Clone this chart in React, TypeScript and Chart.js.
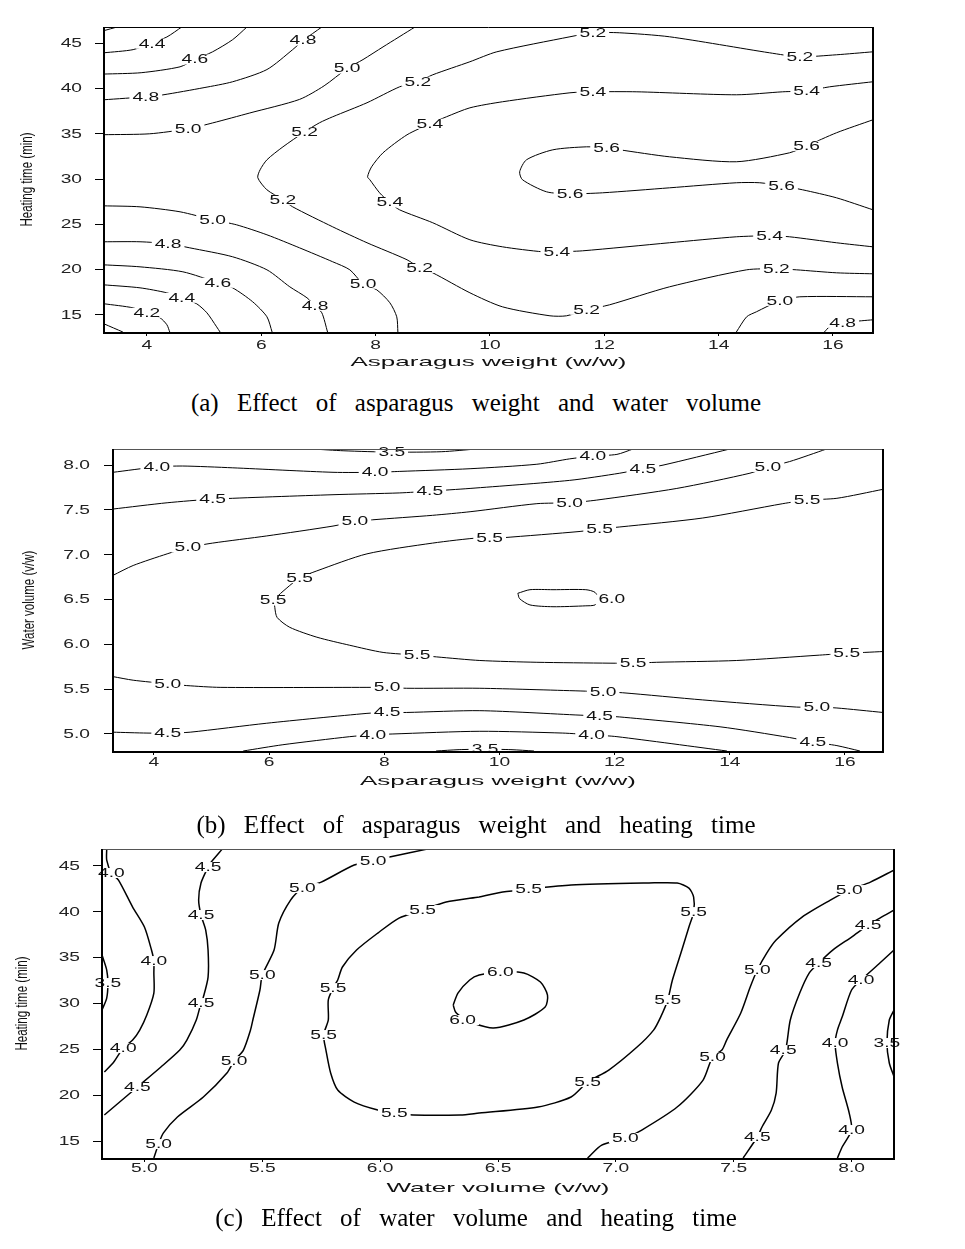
import React, { useEffect, useRef } from 'react';
import { Chart, registerables } from 'chart.js';
Chart.register(...registerables);

type Pt = [number, number];
type Lbl = [number, number, string];

// ---------------- Panel (a): asparagus weight x heating time ----------------
const A_X_TICKS = [4, 6, 8, 10, 12, 14, 16];
const A_Y_TICKS = [15, 20, 25, 30, 35, 40, 45];
const A_C40: Pt[] = [[3.25, 14.0], [3.58, 13.1]];
const A_C42_TOP: Pt[] = [[3.25, 46.4], [3.48, 46.8]];
const A_C42: Pt[] = [[3.25, 16.22], [3.76, 15.77], [4.0, 15.22], [4.23, 14.67], [4.35, 13.9], [4.4, 13.1]];
const A_C44_TOP: Pt[] = [[3.25, 43.95], [3.76, 44.3], [4.09, 45.05], [4.35, 45.7], [4.61, 46.8]];
const A_C44: Pt[] = [[3.25, 18.31], [3.88, 17.98], [4.35, 17.43], [4.61, 16.88], [4.87, 16.22], [5.05, 15.22], [5.22, 13.67], [5.28, 13.1]];
const A_C46_TOP: Pt[] = [[3.25, 41.6], [3.9, 41.75], [4.58, 42.4], [4.84, 43.2], [5.15, 44.06], [5.5, 45.4], [5.75, 46.8]];
const A_C46: Pt[] = [[3.25, 20.52], [3.88, 20.3], [4.63, 19.75], [5.24, 18.54], [5.5, 17.98], [5.85, 16.44], [6.1, 14.78], [6.19, 13.1]];
const A_C48_TOP: Pt[] = [[3.25, 38.76], [4.0, 39.1], [4.28, 39.3], [5.0, 40.1], [5.5, 40.75], [6.1, 42.1], [6.55, 44.3], [6.73, 45.3], [7.06, 46.8]];
const A_C48: Pt[] = [[3.25, 23.07], [3.88, 23.07], [4.37, 22.85], [4.75, 22.4], [5.5, 21.41], [6.1, 19.97], [6.5, 18.09], [6.8, 16.88], [6.94, 15.99], [7.06, 15.22], [7.16, 13.1]];
const A_C48_BR: Pt[] = [[15.85, 13.1], [15.94, 13.67], [16.17, 14.12], [16.5, 14.34], [16.7, 14.45]];
const A_C50_TOP: Pt[] = [[3.25, 34.9], [4.05, 35.0], [4.72, 35.55], [5.15, 36.2], [5.8, 37.3], [6.67, 38.8], [7.1, 40.3], [7.5, 42.2], [7.78, 43.2], [8.13, 44.6], [8.69, 46.8]];
const A_C50: Pt[] = [[3.25, 27.04], [3.88, 26.93], [4.58, 26.38], [5.15, 25.5], [5.57, 24.94], [6.1, 23.84], [6.67, 22.4], [7.25, 20.86], [7.55, 19.97], [7.78, 18.43], [8.02, 17.76], [8.25, 16.33], [8.37, 14.78], [8.39, 13.1]];
const A_C50_BR: Pt[] = [[14.31, 13.1], [14.49, 14.78], [14.66, 15.33], [15.07, 16.55], [15.42, 16.99], [16.7, 16.99]];
const A_C52: Pt[] = [[16.7, 19.53], [16.06, 19.64], [15.36, 19.97], [15.01, 20.08], [14.49, 19.97], [13.14, 18.09], [12.09, 16.1], [11.69, 15.55], [11.34, 14.89], [11.05, 14.89], [10.22, 15.88], [9.65, 17.43], [9.0, 19.64], [8.77, 20.19], [8.55, 21.08], [7.85, 22.96], [7.25, 24.72], [6.55, 26.93], [6.38, 27.71], [6.1, 28.81], [5.94, 30.14], [5.98, 31.02], [6.1, 32.13], [6.38, 33.56], [6.76, 35.22], [7.02, 36.22], [7.25, 36.88], [7.85, 38.43], [8.42, 40.19], [8.74, 40.75], [9.0, 41.52], [9.65, 42.96], [10.12, 44.06], [11.4, 45.72], [11.8, 46.16], [12.27, 46.16], [13.14, 45.72], [14.89, 43.95], [15.42, 43.51], [16.06, 43.73], [16.7, 44.06]];
const A_C54: Pt[] = [[16.7, 22.51], [16.06, 22.96], [15.24, 23.62], [14.89, 23.73], [14.31, 23.62], [13.14, 22.96], [11.62, 22.07], [11.17, 21.96], [10.92, 21.96], [10.22, 22.51], [9.65, 23.29], [9.0, 25.17], [8.42, 26.6], [8.25, 27.38], [8.07, 28.48], [7.9, 29.92], [7.86, 30.25], [7.93, 31.35], [8.13, 32.9], [8.55, 34.89], [8.95, 36.1], [9.24, 36.88], [9.65, 37.87], [10.22, 38.54], [11.4, 39.53], [11.8, 39.64], [12.57, 39.64], [14.31, 39.31], [15.12, 39.64], [15.54, 39.75], [15.94, 40.19], [16.7, 40.75]];
const A_C56: Pt[] = [[16.7, 36.55], [16.06, 35.11], [15.54, 33.67], [15.24, 32.9], [14.31, 31.91], [13.14, 32.46], [12.27, 33.23], [12.04, 33.45], [11.69, 33.56], [11.1, 33.23], [10.64, 32.13], [10.52, 30.8], [10.57, 29.92], [10.99, 28.59], [11.4, 28.37], [11.97, 28.48], [13.14, 29.03], [14.31, 29.59], [14.72, 29.59], [15.1, 29.25], [15.47, 28.81], [16.06, 27.93], [16.7, 26.6]];
const A_LABELS: Lbl[] = [
  [4.09, 44.95, '4.4'], [4.84, 43.2, '4.6'], [3.98, 39.1, '4.8'], [6.73, 45.3, '4.8'],
  [4.72, 35.55, '5.0'], [7.5, 42.2, '5.0'], [6.76, 35.2, '5.2'], [8.74, 40.75, '5.2'],
  [11.8, 46.16, '5.2'], [15.42, 43.5, '5.2'], [8.95, 36.1, '5.4'], [11.8, 39.64, '5.4'],
  [15.54, 39.75, '5.4'], [12.04, 33.45, '5.6'], [15.54, 33.67, '5.6'], [11.4, 28.37, '5.6'],
  [15.1, 29.25, '5.6'], [6.38, 27.7, '5.2'], [8.25, 27.4, '5.4'], [5.15, 25.5, '5.0'],
  [11.17, 21.96, '5.4'], [14.89, 23.73, '5.4'], [4.37, 22.85, '4.8'], [8.77, 20.19, '5.2'],
  [11.69, 15.55, '5.2'], [15.01, 20.08, '5.2'], [5.24, 18.54, '4.6'], [7.78, 18.43, '5.0'],
  [4.61, 16.88, '4.4'], [6.94, 15.99, '4.8'], [4.0, 15.22, '4.2'], [15.07, 16.55, '5.0'],
  [16.17, 14.12, '4.8'],
];

// ---------------- Panel (b): asparagus weight x water volume ----------------
const B_X_TICKS = [4, 6, 8, 10, 12, 14, 16];
const B_Y_TICKS = [5.0, 5.5, 6.0, 6.5, 7.0, 7.5, 8.0];
const B_C35_TOP: Pt[] = [[6.75, 8.18], [7.3, 8.16], [8.13, 8.145], [9.0, 8.15], [9.6, 8.18]];
const B_C40_TOP: Pt[] = [[3.29, 7.92], [4.05, 7.98], [4.5, 7.99], [5.37, 7.97], [7.11, 7.92], [7.84, 7.92], [8.27, 7.93], [9.49, 7.96], [10.65, 8.01], [11.22, 8.07], [11.62, 8.1], [12.04, 8.12], [12.32, 8.18]];
const B_C45_TOP: Pt[] = [[3.29, 7.51], [4.23, 7.58], [5.02, 7.62], [7.11, 7.67], [8.27, 7.69], [8.79, 7.71], [9.49, 7.74], [11.22, 7.83], [12.09, 7.91], [12.49, 7.96], [12.84, 8.0], [14.0, 8.18]];
const B_C50_TOP: Pt[] = [[3.29, 6.77], [3.64, 6.88], [4.23, 7.01], [4.59, 7.08], [5.02, 7.13], [5.96, 7.21], [7.11, 7.32], [7.49, 7.37], [7.8, 7.39], [8.84, 7.44], [9.49, 7.48], [10.65, 7.57], [11.22, 7.58], [11.69, 7.61], [13.08, 7.74], [14.35, 7.91], [14.66, 7.98], [15.04, 8.04], [15.68, 8.18]];
const B_C55: Pt[] = [[16.66, 7.73], [15.86, 7.63], [15.34, 7.61], [14.92, 7.57], [13.53, 7.41], [12.09, 7.31], [11.74, 7.29], [11.4, 7.26], [10.06, 7.19], [9.83, 7.18], [9.66, 7.19], [8.84, 7.13], [7.7, 7.01], [6.83, 6.82], [6.53, 6.74], [6.31, 6.63], [6.1, 6.5], [6.1, 6.41], [6.14, 6.3], [6.36, 6.19], [6.83, 6.08], [7.4, 5.99], [7.98, 5.91], [8.57, 5.88], [8.91, 5.86], [9.66, 5.82], [10.65, 5.8], [11.92, 5.79], [12.32, 5.79], [12.73, 5.8], [14.12, 5.82], [15.56, 5.88], [16.03, 5.9], [16.66, 5.92]];
const B_C60: Pt[] = [[10.32, 6.57], [10.53, 6.61], [10.93, 6.61], [11.5, 6.61], [11.66, 6.58], [11.72, 6.5], [11.66, 6.44], [11.5, 6.43], [10.93, 6.42], [10.53, 6.44], [10.35, 6.51], [10.32, 6.57]];
const B_C50_LOW: Pt[] = [[3.29, 5.64], [3.64, 5.6], [4.24, 5.56], [4.57, 5.54], [5.15, 5.52], [7.7, 5.52], [8.05, 5.52], [8.39, 5.51], [9.66, 5.51], [11.4, 5.48], [11.8, 5.47], [12.14, 5.46], [13.53, 5.38], [15.16, 5.3], [15.51, 5.3], [15.86, 5.29], [16.66, 5.24]];
const B_C45_LOW: Pt[] = [[3.29, 5.02], [3.88, 5.01], [4.24, 5.01], [4.63, 5.02], [5.96, 5.12], [7.7, 5.23], [8.05, 5.24], [8.39, 5.24], [9.66, 5.26], [11.4, 5.21], [11.74, 5.2], [12.09, 5.19], [13.83, 5.08], [15.04, 4.96], [15.44, 4.91], [15.86, 4.87], [16.26, 4.81]];
const B_C40_LOW: Pt[] = [[5.55, 4.81], [6.24, 4.88], [7.4, 4.97], [7.8, 4.99], [8.15, 5.0], [9.66, 5.03], [11.1, 5.01], [11.6, 4.99], [12.04, 4.97], [13.95, 4.81]];
const B_C35_LOW: Pt[] = [[8.9, 4.81], [9.3, 4.825], [9.75, 4.83], [10.2, 4.825], [10.6, 4.81]];
const B_LABELS: Lbl[] = [
  [8.13, 8.145, '3.5'], [4.05, 7.98, '4.0'], [7.84, 7.92, '4.0'], [11.62, 8.1, '4.0'],
  [5.02, 7.62, '4.5'], [8.79, 7.71, '4.5'], [12.49, 7.96, '4.5'], [4.59, 7.08, '5.0'],
  [7.49, 7.37, '5.0'], [11.22, 7.58, '5.0'], [14.66, 7.98, '5.0'], [6.53, 6.74, '5.5'],
  [6.07, 6.49, '5.5'], [9.83, 7.18, '5.5'], [11.74, 7.29, '5.5'], [15.34, 7.61, '5.5'],
  [11.95, 6.5, '6.0'], [8.57, 5.88, '5.5'], [12.32, 5.79, '5.5'], [16.03, 5.9, '5.5'],
  [4.24, 5.56, '5.0'], [8.05, 5.52, '5.0'], [11.8, 5.47, '5.0'], [15.51, 5.3, '5.0'],
  [4.24, 5.01, '4.5'], [8.05, 5.24, '4.5'], [11.74, 5.2, '4.5'], [15.44, 4.91, '4.5'],
  [7.8, 4.99, '4.0'], [11.6, 4.99, '4.0'], [9.75, 4.83, '3.5'],
];

// ---------------- Panel (c): water volume x heating time ----------------
const C_X_TICKS = [5.0, 5.5, 6.0, 6.5, 7.0, 7.5, 8.0];
const C_Y_TICKS = [15, 20, 25, 30, 35, 40, 45];
const C_C35_L: Pt[] = [[4.82, 35.28], [4.84, 33.65], [4.845, 32.23], [4.84, 30.59], [4.82, 29.29]];
const C_C40_L: Pt[] = [[4.84, 46.84], [4.84, 45.64], [4.86, 44.23], [4.89, 43.46], [4.95, 40.52], [5.0, 38.34], [5.03, 35.83], [5.04, 34.63], [5.04, 33.32], [5.04, 31.14], [5.01, 28.74], [4.98, 27.1], [4.95, 26.01], [4.91, 25.14], [4.87, 23.62], [4.83, 22.52]];
const C_C45_L: Pt[] = [[5.33, 46.84], [5.28, 45.32], [5.27, 44.88], [5.24, 43.14], [5.23, 41.28], [5.24, 39.65], [5.26, 38.01], [5.27, 35.83], [5.27, 32.88], [5.25, 30.7], [5.24, 30.05], [5.22, 28.2], [5.18, 26.01], [5.15, 24.92], [5.07, 23.07], [4.97, 20.89], [4.93, 20.02], [4.83, 17.84]];
const C_C50_L: Pt[] = [[6.2, 46.84], [6.04, 45.97], [5.97, 45.53], [5.89, 45.1], [5.75, 43.24], [5.67, 42.59], [5.62, 41.28], [5.57, 38.77], [5.55, 35.83], [5.5, 33.1], [5.49, 31.47], [5.46, 28.2], [5.45, 27.1], [5.42, 24.92], [5.38, 23.72], [5.35, 22.42], [5.25, 19.8], [5.14, 17.62], [5.08, 15.87], [5.06, 14.67], [5.04, 13.15]];
const C_C55: Pt[] = [[6.42, 41.61], [6.28, 41.06], [6.18, 40.19], [6.08, 39.32], [5.99, 37.68], [5.9, 35.83], [5.84, 33.98], [5.82, 32.56], [5.8, 31.68], [5.78, 30.38], [5.78, 28.2], [5.76, 26.56], [5.77, 24.92], [5.79, 22.42], [5.82, 20.56], [5.89, 19.25], [5.99, 18.38], [6.06, 18.05], [6.14, 17.84], [6.34, 17.84], [6.42, 18.05], [6.67, 18.71], [6.81, 19.8], [6.88, 21.43], [6.97, 22.74], [7.09, 25.25], [7.16, 27.1], [7.19, 28.52], [7.22, 30.38], [7.24, 32.56], [7.28, 35.83], [7.31, 38.34], [7.33, 39.97], [7.33, 41.61], [7.31, 42.59], [7.26, 43.14], [7.14, 43.14], [6.81, 42.92], [6.63, 42.48], [6.52, 42.15], [6.42, 41.61]];
const C_C60: Pt[] = [[6.31, 29.83], [6.33, 31.14], [6.38, 32.56], [6.42, 33.1], [6.51, 33.43], [6.61, 33.32], [6.68, 32.34], [6.71, 30.92], [6.7, 29.61], [6.61, 28.2], [6.48, 27.32], [6.38, 27.98], [6.35, 28.41], [6.32, 29.07], [6.31, 29.83]];
const C_C50_R: Pt[] = [[8.18, 44.55], [8.08, 43.24], [7.99, 42.37], [7.91, 41.28], [7.79, 39.43], [7.68, 36.92], [7.64, 35.5], [7.6, 33.65], [7.57, 31.79], [7.53, 28.96], [7.47, 26.01], [7.45, 24.92], [7.41, 24.16], [7.37, 21.65], [7.26, 18.71], [7.11, 16.2], [7.04, 15.33], [6.94, 14.56], [6.88, 13.15]];
const C_C45_R: Pt[] = [[8.18, 40.19], [8.12, 39.32], [8.07, 38.55], [8.0, 37.25], [7.92, 35.83], [7.86, 34.41], [7.82, 33.32], [7.78, 31.14], [7.74, 28.2], [7.72, 24.92], [7.69, 23.51], [7.68, 20.23], [7.66, 18.38], [7.62, 16.53], [7.6, 15.44], [7.54, 13.15]];
const C_C40_R: Pt[] = [[8.18, 35.83], [8.12, 34.41], [8.04, 32.56], [8.0, 31.47], [7.96, 28.52], [7.94, 27.1], [7.93, 25.69], [7.94, 23.51], [7.96, 20.89], [7.99, 18.05], [8.0, 16.2], [7.96, 14.35], [7.94, 13.15]];
const C_C35_R: Pt[] = [[8.18, 29.29], [8.16, 28.2], [8.15, 25.69], [8.16, 23.51], [8.18, 22.02]];
const C_LABELS: Lbl[] = [
  [4.845, 32.23, '3.5'], [4.86, 44.23, '4.0'], [5.04, 34.63, '4.0'], [4.91, 25.14, '4.0'],
  [5.27, 44.88, '4.5'], [5.24, 39.65, '4.5'], [5.24, 30.05, '4.5'], [4.97, 20.89, '4.5'],
  [5.97, 45.53, '5.0'], [5.67, 42.59, '5.0'], [5.5, 33.1, '5.0'], [5.38, 23.72, '5.0'],
  [5.06, 14.67, '5.0'], [6.18, 40.19, '5.5'], [6.63, 42.48, '5.5'], [7.33, 39.97, '5.5'],
  [5.8, 31.68, '5.5'], [5.76, 26.56, '5.5'], [7.22, 30.38, '5.5'], [6.88, 21.43, '5.5'],
  [6.06, 18.05, '5.5'], [6.51, 33.43, '6.0'], [6.35, 28.2, '6.0'], [7.99, 42.37, '5.0'],
  [7.6, 33.65, '5.0'], [7.41, 24.16, '5.0'], [7.04, 15.33, '5.0'], [8.07, 38.55, '4.5'],
  [7.86, 34.41, '4.5'], [7.71, 24.92, '4.5'], [7.6, 15.44, '4.5'], [8.04, 32.56, '4.0'],
  [7.93, 25.69, '4.0'], [8.0, 16.2, '4.0'], [8.15, 25.69, '3.5'],
];

const SANS = '"Liberation Sans", Arial, sans-serif';
const NARROW = '"Liberation Sans Narrow", "Liberation Sans", Arial, sans-serif';
const SERIF = '"Liberation Serif", "DejaVu Serif", serif';

interface Panel {
  top: number; height: number; padTop: number; padRight: number; yAxisW: number; xAxisH: number;
  xMin: number; xMax: number; yMin: number; yMax: number;
  xTicks: number[]; yTicks: number[]; xDec: number; yDec: number;
  xTitle: string; yTitle: string; contours: Pt[][]; labels: Lbl[]; lineW: number;
  yLabelRight: number; xLabelDy: number; xTitleDy: number; yTitleX: number; topColor: string;
}

const PANELS: Panel[] = [
  {
    top: 0, height: 380, padTop: 27, padRight: 92, yAxisW: 104, xAxisH: 48,
    xMin: 3.25, xMax: 16.7, yMin: 13.1, yMax: 46.8,
    xTicks: A_X_TICKS, yTicks: A_Y_TICKS, xDec: 0, yDec: 0,
    xTitle: 'Asparagus weight (w/w)', yTitle: 'Heating time (min)',
    contours: [A_C40, A_C42_TOP, A_C42, A_C44_TOP, A_C44, A_C46_TOP, A_C46, A_C48_TOP, A_C48, A_C48_BR, A_C50_TOP, A_C50, A_C50_BR, A_C52, A_C54, A_C56],
    labels: A_LABELS, lineW: 1, yLabelRight: 82, xLabelDy: 14, xTitleDy: 30, yTitleX: 28, topColor: '#000',
  },
  {
    top: 420, height: 380, padTop: 29, padRight: 82, yAxisW: 113, xAxisH: 49,
    xMin: 3.29, xMax: 16.66, yMin: 4.81, yMax: 8.18,
    xTicks: B_X_TICKS, yTicks: B_Y_TICKS, xDec: 0, yDec: 1,
    xTitle: 'Asparagus weight (w/w)', yTitle: 'Water volume (v/w)',
    contours: [B_C35_TOP, B_C40_TOP, B_C45_TOP, B_C50_TOP, B_C55, B_C60, B_C50_LOW, B_C45_LOW, B_C40_LOW, B_C35_LOW],
    labels: B_LABELS, lineW: 1, yLabelRight: 90, xLabelDy: 12, xTitleDy: 30, yTitleX: 30, topColor: '#555',
  },
  {
    top: 830, height: 375, padTop: 19, padRight: 71, yAxisW: 102, xAxisH: 47,
    xMin: 4.82, xMax: 8.18, yMin: 13.15, yMax: 46.85,
    xTicks: C_X_TICKS, yTicks: C_Y_TICKS, xDec: 1, yDec: 0,
    xTitle: 'Water volume (v/w)', yTitle: 'Heating time (min)',
    contours: [C_C35_L, C_C40_L, C_C45_L, C_C50_L, C_C55, C_C60, C_C50_R, C_C45_R, C_C40_R, C_C35_R],
    labels: C_LABELS, lineW: 1.5, yLabelRight: 80, xLabelDy: 11, xTitleDy: 30, yTitleX: 23, topColor: '#555',
  },
];

const CAPTIONS = [
  { top: 388, text: '(a) Effect of asparagus weight and water volume' },
  { top: 810, text: '(b) Effect of asparagus weight and heating time' },
  { top: 1203, text: '(c) Effect of water volume and heating time' },
];

const LABEL_SX = 1.6;

function stretched(ctx: CanvasRenderingContext2D, text: string, x: number, y: number, sx: number, align: CanvasTextAlign) {
  ctx.save();
  ctx.translate(x, y);
  ctx.scale(sx, 1);
  ctx.textAlign = align;
  ctx.fillText(text, 0, 0);
  ctx.restore();
}

function decoPlugin(p: Panel) {
  return {
    id: 'deco',
    afterDatasetsDraw(chart: any) {
      const ctx: CanvasRenderingContext2D = chart.ctx;
      const xs = chart.scales.x, ys = chart.scales.y, ca = chart.chartArea;
      ctx.save();
      ctx.font = `12px ${SANS}`;
      ctx.textBaseline = 'middle';
      for (const [x, y, t] of p.labels) {
        const px = xs.getPixelForValue(x), py = ys.getPixelForValue(y);
        const w = ctx.measureText(t).width * LABEL_SX;
        ctx.save();
        ctx.beginPath();
        ctx.rect(ca.left, ca.top, ca.right - ca.left, ca.bottom - ca.top);
        ctx.clip();
        ctx.fillStyle = '#fff';
        ctx.fillRect(px - w / 2 - 3, py - 5, w + 6, 10);
        ctx.restore();
        ctx.fillStyle = '#111';
        stretched(ctx, t, px, py + 0.5, LABEL_SX, 'center');
      }
      ctx.restore();
    },
    afterDraw(chart: any) {
      const ctx: CanvasRenderingContext2D = chart.ctx;
      const xs = chart.scales.x, ys = chart.scales.y, ca = chart.chartArea;
      ctx.save();
      // frame
      ctx.strokeStyle = p.topColor;
      ctx.lineWidth = 1;
      ctx.beginPath();
      ctx.moveTo(ca.left, ca.top + 0.5);
      ctx.lineTo(ca.right, ca.top + 0.5);
      ctx.stroke();
      ctx.strokeStyle = '#000';
      ctx.lineWidth = 2;
      ctx.beginPath();
      ctx.moveTo(ca.left, ca.top);
      ctx.lineTo(ca.left, ca.bottom + 1);
      ctx.lineTo(ca.right + 1, ca.bottom + 1);
      ctx.moveTo(ca.right, ca.top);
      ctx.lineTo(ca.right, ca.bottom + 1);
      ctx.stroke();
      // tick labels
      ctx.fillStyle = '#222';
      ctx.font = `12px ${SANS}`;
      ctx.textBaseline = 'middle';
      for (const v of p.yTicks) {
        stretched(ctx, v.toFixed(p.yDec), p.yLabelRight, ys.getPixelForValue(v) + 0.5, 1.6, 'right');
      }
      for (const v of p.xTicks) {
        stretched(ctx, v.toFixed(p.xDec), xs.getPixelForValue(v), ca.bottom + p.xLabelDy, 1.6, 'center');
      }
      // axis titles
      ctx.fillStyle = '#111';
      ctx.font = `13px ${SANS}`;
      stretched(ctx, p.xTitle, (ca.left + ca.right) / 2, ca.bottom + p.xTitleDy, 2.0, 'center');
      ctx.font = `16px ${NARROW}`;
      ctx.save();
      ctx.translate(p.yTitleX, (ca.top + ca.bottom) / 2);
      ctx.rotate(-Math.PI / 2);
      ctx.scale(0.72, 1);
      ctx.textAlign = 'center';
      ctx.fillText(p.yTitle, 0, 0);
      ctx.restore();
      ctx.restore();
    },
  };
}

function buildConfig(p: Panel): any {
  return {
    type: 'scatter',
    data: {
      datasets: p.contours.map((c) => ({
        data: c.map(([x, y]) => ({ x, y })),
        showLine: true,
        borderColor: '#000',
        borderWidth: p.lineW,
        pointRadius: 0,
        pointHoverRadius: 0,
        tension: 0.25,
        fill: false,
      })),
    },
    options: {
      animation: false,
      responsive: false,
      maintainAspectRatio: false,
      events: [],
      layout: { padding: { left: 0, top: p.padTop, right: p.padRight, bottom: 0 } },
      plugins: { legend: { display: false }, tooltip: { enabled: false } },
      scales: {
        x: {
          type: 'linear', position: 'bottom', min: p.xMin, max: p.xMax,
          afterBuildTicks: (s: any) => { s.ticks = p.xTicks.map((v) => ({ value: v })); },
          afterFit: (s: any) => { s.height = p.xAxisH; },
          ticks: { display: false },
          grid: { drawOnChartArea: false, drawTicks: true, tickLength: 4, color: '#000', lineWidth: 1 },
          border: { display: false },
        },
        y: {
          type: 'linear', position: 'left', min: p.yMin, max: p.yMax,
          afterBuildTicks: (s: any) => { s.ticks = p.yTicks.map((v) => ({ value: v })); },
          afterFit: (s: any) => { s.width = p.yAxisW; },
          ticks: { display: false },
          grid: { drawOnChartArea: false, drawTicks: true, tickLength: 9, color: '#000', lineWidth: 1 },
          border: { display: false },
        },
      },
    },
    plugins: [decoPlugin(p)],
  };
}

function ContourChart({ p }: { p: Panel }) {
  const ref = useRef<HTMLCanvasElement>(null);
  useEffect(() => {
    const chart = new Chart(ref.current as HTMLCanvasElement, buildConfig(p));
    return () => chart.destroy();
  }, [p]);
  return (
    <div style={{ position: 'absolute', left: 0, top: p.top, width: 965, height: p.height }}>
      <canvas ref={ref} width={965} height={p.height} style={{ display: 'block', width: 965, height: p.height }} />
    </div>
  );
}

export default function App() {
  return (
    <div style={{ position: 'absolute', left: 0, top: 0, width: 965, height: 1249, background: '#fff', overflow: 'hidden' }}>
      {PANELS.map((p, i) => <ContourChart key={i} p={p} />)}
      {CAPTIONS.map((c, i) => (
        <div key={i} style={{ position: 'absolute', left: 0, top: c.top, width: 952, textAlign: 'center', fontFamily: SERIF, fontSize: 25, lineHeight: '30px', wordSpacing: 12, color: '#000', whiteSpace: 'nowrap' }}>
          {c.text}
        </div>
      ))}
    </div>
  );
}
